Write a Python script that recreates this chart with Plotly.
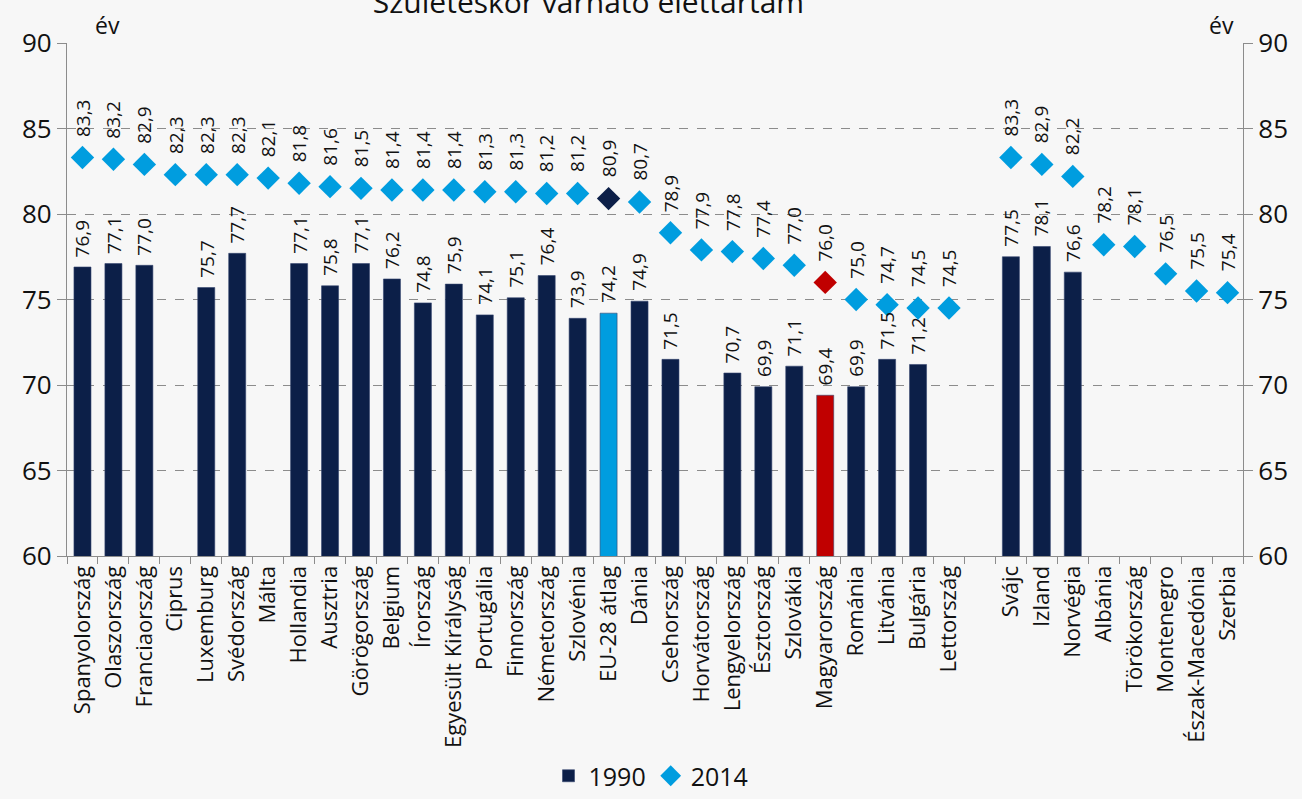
import plotly.graph_objects as go

# Countries (the blank slot separates EU members from the non-EU group)
countries = [
    "Spanyolország", "Olaszország", "Franciaország", "Ciprus", "Luxemburg",
    "Svédország", "Málta", "Hollandia", "Ausztria", "Görögország", "Belgium",
    "Írország", "Egyesült Királyság", "Portugália", "Finnország",
    "Németország", "Szlovénia", "EU-28 átlag", "Dánia", "Csehország",
    "Horvátország", "Lengyelország", "Észtország", "Szlovákia",
    "Magyarország", "Románia", "Litvánia", "Bulgária", "Lettország", " ",
    "Svájc", "Izland", "Norvégia", "Albánia", "Törökország", "Montenegro",
    "Észak-Macedónia", "Szerbia",
]

# Life expectancy at birth, 1990 (None = no data)
life_1990 = [
    76.9, 77.1, 77.0, None, 75.7, 77.7, None, 77.1, 75.8, 77.1, 76.2, 74.8,
    75.9, 74.1, 75.1, 76.4, 73.9, 74.2, 74.9, 71.5, None, 70.7, 69.9, 71.1,
    69.4, 69.9, 71.5, 71.2, None, None, 77.5, 78.1, 76.6, None, None, None,
    None, None,
]

# Life expectancy at birth, 2014
life_2014 = [
    83.3, 83.2, 82.9, 82.3, 82.3, 82.3, 82.1, 81.8, 81.6, 81.5, 81.4, 81.4,
    81.4, 81.3, 81.3, 81.2, 81.2, 80.9, 80.7, 78.9, 77.9, 77.8, 77.4, 77.0,
    76.0, 75.0, 74.7, 74.5, 74.5, None, 83.3, 82.9, 82.2, 78.2, 78.1, 76.5,
    75.5, 75.4,
]

NAVY = "#0c1f48"
CYAN = "#009ddf"
RED = "#c00000"
FONT = "Open Sans"
AXIS = "#8c8c8c"


def bar_colour(name):
    if name == "EU-28 átlag":
        return CYAN
    if name == "Magyarország":
        return RED
    return NAVY


def dot_colour(name):
    if name == "EU-28 átlag":
        return NAVY
    if name == "Magyarország":
        return RED
    return CYAN


def fmt(v):
    return f"{v:.1f}".replace(".", ",")


fig = go.Figure()

fig.add_trace(go.Bar(
    x=countries, y=life_1990, name="1990",
    marker=dict(color=[bar_colour(c) for c in countries],
                line=dict(color="#34446e", width=0.6)),
))

fig.add_trace(go.Scatter(
    x=countries, y=life_2014, name="2014", mode="markers",
    marker=dict(symbol="diamond", size=18,
                color=[dot_colour(c) for c in countries]),
))

# Rotated value labels above bars and markers
annotations = []
for c, v in zip(countries, life_1990):
    if v is not None:
        annotations.append(dict(
            x=c, y=v, xref="x", yref="y", text=fmt(v), textangle=-90,
            showarrow=False, yanchor="bottom", xanchor="center", yshift=8,
            font=dict(family=FONT, size=19, color="#111111"),
        ))
for c, v in zip(countries, life_2014):
    if v is not None:
        annotations.append(dict(
            x=c, y=v, xref="x", yref="y", text=fmt(v), textangle=-90,
            showarrow=False, yanchor="bottom", xanchor="center", yshift=19,
            font=dict(family=FONT, size=19, color="#111111"),
        ))

# Unit labels over both value axes
annotations.append(dict(
    x=0.022, y=1.0, xref="paper", yref="paper", text="év", showarrow=False,
    xanchor="left", yanchor="bottom", yshift=0,
    font=dict(family=FONT, size=23, color="#111111"),
))
annotations.append(dict(
    x=0.994, y=1.0, xref="paper", yref="paper", text="év", showarrow=False,
    xanchor="right", yanchor="bottom", yshift=0,
    font=dict(family=FONT, size=23, color="#111111"),
))

ticks_y = [60, 65, 70, 75, 80, 85, 90]

fig.update_layout(
    width=1302, height=799,
    margin=dict(l=67, r=59, t=43, b=243, autoexpand=False),
    paper_bgcolor="#f7f7f7", plot_bgcolor="#f7f7f7",
    font=dict(family=FONT, color="#111111"),
    title=dict(text="Születéskor várható élettartam", x=0.452, xanchor="center",
               y=0.997, yanchor="middle", yref="container",
               font=dict(family=FONT, size=30, color="#111111")),
    bargap=0.45,
    showlegend=True,
    legend=dict(orientation="h", x=0.5, xanchor="center", xref="container",
                y=-0.026, yanchor="bottom", yref="container",
                font=dict(family=FONT, size=25),
                itemwidth=30, bgcolor="rgba(0,0,0,0)"),
    annotations=annotations,
    xaxis=dict(
        type="category", categoryorder="array", categoryarray=countries,
        range=[-0.5, len(countries) - 0.5], automargin=False,
        tickangle=-90, tickfont=dict(family=FONT, size=22),
        ticks="outside", tickson="boundaries", ticklen=7, tickcolor=AXIS,
        showline=True, linecolor=AXIS, linewidth=1.2,
        showgrid=False, zeroline=False,
    ),
    yaxis=dict(
        range=[60, 90], tickvals=ticks_y, automargin=False,
        tickfont=dict(family=FONT, size=26),
        ticks="outside", ticklen=9, tickcolor=AXIS,
        showline=True, linecolor=AXIS, linewidth=1.2,
        showgrid=True, gridcolor=AXIS, griddash="dash", gridwidth=1,
        zeroline=False,
    ),
    yaxis2=dict(
        range=[60, 90], tickvals=ticks_y, automargin=False,
        overlaying="y", side="right",
        tickfont=dict(family=FONT, size=26),
        ticks="outside", ticklen=9, tickcolor=AXIS,
        showline=True, linecolor=AXIS, linewidth=1.2,
        showgrid=False, zeroline=False,
    ),
)

# Empty trace so the right-hand value axis is drawn
fig.add_trace(go.Scatter(x=[countries[0]], y=[None], yaxis="y2",
                         showlegend=False, hoverinfo="skip"))

fig.write_html("out.html")
